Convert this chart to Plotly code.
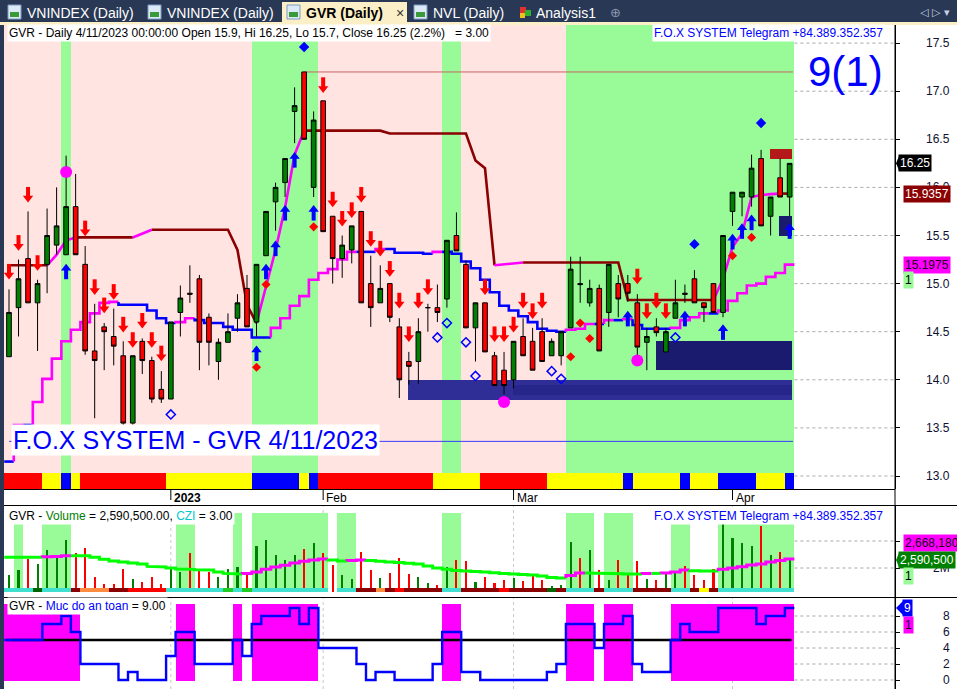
import plotly.graph_objects as go
import pandas as pd

W, H = 957, 689
FONT = "Liberation Sans, Arial, sans-serif"

# ---------------------------------------------------------------- data
holidays = pd.to_datetime(["2023-01-02", "2023-01-20", "2023-01-23", "2023-01-24",
                           "2023-01-25", "2023-01-26"])
dates = [d for d in pd.bdate_range("2022-12-08", "2023-04-11") if d not in holidays]

open_ = [14.24, 14.75, 15.26, 14.80, 15.20, 15.40, 15.30, 15.80, 15.20, 14.30,
         14.55, 14.45, 14.25, 13.55, 14.40, 14.20, 13.90, 13.80, 14.70, 14.90,
         15.05, 14.65, 14.19, 14.39, 14.64, 14.95, 14.60, 15.29, 15.85, 16.05,
         16.79, 17.20, 16.00, 16.90, 15.70, 15.26, 15.35, 15.75, 15.00, 14.80,
         15.00, 14.55, 14.19, 14.19, 14.75, 14.75, 14.84, 15.50, 15.20, 14.54,
         14.80, 14.25, 14.10, 14.00, 14.45, 14.40, 14.50, 14.25, 14.25, 14.54,
         15.00, 14.80, 14.95, 14.70, 15.00, 15.00, 14.80, 14.39, 14.55, 14.29,
         14.64, 14.90, 15.05, 14.80, 15.00, 14.70, 15.75, 15.90, 15.90, 16.30,
         15.70, 16.10, 15.90]
high = [14.94, 15.25, 15.75, 15.04, 15.78, 16.00, 16.33, 16.14, 15.39, 14.79,
        14.59, 14.74, 14.40, 14.25, 14.43, 14.24, 14.09, 14.60, 14.98, 15.19,
        15.09, 14.69, 14.43, 14.69, 14.89, 15.09, 15.20, 15.75, 16.05, 16.30,
        17.04, 17.20, 16.79, 16.90, 15.70, 15.50, 15.60, 15.75, 15.29, 15.19,
        15.00, 14.64, 14.29, 14.64, 14.79, 14.99, 15.45, 15.74, 15.24, 14.80,
        14.80, 14.29, 14.29, 14.40, 14.64, 14.54, 14.64, 14.43, 14.50, 15.28,
        15.28, 15.04, 14.99, 15.20, 15.09, 15.09, 14.89, 14.54, 14.64, 14.54,
        15.04, 14.99, 15.14, 14.80, 15.00, 15.50, 15.95, 15.95, 16.34, 16.39,
        15.90, 16.30, 16.25]
low = [14.24, 14.45, 14.80, 14.30, 14.90, 15.30, 15.30, 15.30, 14.26, 13.60,
       14.10, 14.15, 13.45, 13.50, 14.06, 13.76, 13.76, 13.80, 14.45, 14.80,
       14.10, 14.15, 14.00, 14.39, 14.50, 14.55, 14.45, 15.29, 15.55, 15.90,
       16.46, 16.50, 15.90, 15.54, 15.00, 15.06, 15.21, 14.80, 14.55, 14.80,
       14.60, 13.81, 13.95, 13.96, 14.50, 14.60, 14.75, 15.34, 14.54, 14.19,
       14.29, 13.94, 13.85, 13.91, 14.25, 14.10, 14.19, 14.25, 14.15, 14.54,
       14.80, 14.76, 14.30, 14.55, 14.65, 14.81, 14.25, 14.10, 14.45, 14.29,
       14.64, 14.80, 14.80, 14.60, 14.70, 14.65, 15.60, 15.70, 15.80, 15.60,
       15.50, 15.90, 15.70]
close = [14.70, 15.05, 14.80, 15.00, 15.50, 15.60, 15.80, 15.30, 14.30, 14.20,
         14.50, 14.35, 13.55, 14.25, 14.20, 13.80, 13.80, 14.60, 14.85, 14.89,
         14.39, 14.39, 14.39, 14.50, 14.80, 14.55, 15.20, 15.75, 16.00, 16.30,
         16.85, 16.50, 16.70, 15.54, 15.26, 15.40, 15.60, 14.80, 14.75, 14.95,
         14.65, 14.00, 14.14, 14.50, 14.75, 14.70, 15.45, 15.34, 14.54, 14.80,
         14.29, 13.94, 13.94, 14.40, 14.25, 14.10, 14.19, 14.40, 14.50, 15.15,
         14.99, 14.95, 14.30, 15.20, 14.84, 14.90, 14.34, 14.45, 14.49, 14.50,
         14.80, 14.89, 14.80, 14.75, 14.70, 15.50, 15.95, 15.95, 16.20, 15.60,
         15.90, 15.90, 16.25]
volume_m = [1.48, 1.85, 2.67, 2.30, 3.33, 2.80, 4.07, 3.10, 3.48, 1.33,
            0.81, 0.80, 1.93, 1.19, 0.96, 1.33, 0.80, 2.07, 1.70, 3.10,
            1.78, 1.70, 1.33, 1.93, 2.07, 1.70, 3.60, 4.07, 2.96, 2.59,
            2.96, 3.40, 3.85, 3.10, 2.20, 1.48, 1.19, 3.20, 1.85, 1.26,
            1.63, 2.74, 1.55, 1.33, 0.89, 0.74, 2.07, 2.59, 2.52, 0.96,
            1.33, 0.89, 1.11, 1.26, 1.04, 1.48, 1.11, 0.67, 0.74, 3.90,
            2.74, 3.33, 1.85, 1.11, 2.59, 1.63, 2.52, 1.19, 1.11, 1.63,
            1.78, 2.15, 1.48, 1.11, 1.93, 5.26, 4.20, 3.85, 3.60, 5.10,
            2.96, 3.20, 2.5905]
vol_ma_m = [2.80, 2.80, 2.80, 2.80, 2.83, 2.86, 2.90, 2.90, 2.90, 2.80,
            2.65, 2.52, 2.44, 2.37, 2.30, 2.12, 2.07, 2.00, 1.93, 1.90,
            1.87, 1.85, 1.70, 1.60, 1.55, 1.60, 1.70, 1.90, 2.07, 2.20,
            2.37, 2.50, 2.60, 2.67, 2.60, 2.52, 2.55, 2.60, 2.55, 2.50,
            2.44, 2.40, 2.35, 2.30, 2.15, 2.00, 1.90, 1.82, 1.78, 1.74,
            1.70, 1.65, 1.60, 1.55, 1.52, 1.48, 1.40, 1.30, 1.26, 1.45,
            1.63, 1.63, 1.63, 1.63, 1.58, 1.55, 1.55, 1.60, 1.60, 1.63,
            1.70, 1.85, 1.80, 1.78, 1.78, 1.90, 2.00, 2.10, 2.22, 2.30,
            2.44, 2.55, 2.66818]
trail_upper = [15.19, 15.19, 15.19, 15.19, 15.19, 15.30, 15.45, 15.48, 15.48, 15.48,
               15.48, 15.48, 15.48, 15.48, 15.52, 15.56, 15.56, 15.56, 15.56, 15.56,
               15.56, 15.56, 15.56, 15.56, 15.35, 14.78, 14.59, 14.96, 15.35, 15.79,
               16.34, 16.59, 16.59, 16.59, 16.59, 16.59, 16.59, 16.59, 16.59, 16.59,
               16.56, 16.56, 16.56, 16.56, 16.56, 16.56, 16.56, 16.56, 16.56, 16.28,
               16.20, 15.19, 15.20, 15.21, 15.22, 15.22, 15.22, 15.22, 15.22, 15.22,
               15.22, 15.22, 15.22, 15.22, 15.22, 14.83, 14.83, 14.83, 14.83, 14.83,
               14.83, 14.83, 14.83, 14.83, 14.83, 15.05, 15.38, 15.52, 15.90, 15.92,
               15.93, 15.9357, 15.9357]
trail_lower = [13.15, 13.53, 13.53, 13.77, 14.01, 14.22, 14.40, 14.52, 14.60, 14.69,
               14.80, 14.81, 14.78, 14.78, 14.78, 14.72, 14.64, 14.59, 14.60, 14.64,
               14.62, 14.59, 14.59, 14.55, 14.52, 14.52, 14.44, 14.44, 14.54, 14.64,
               14.77, 14.87, 15.04, 15.11, 15.15, 15.25, 15.33, 15.33, 15.33, 15.36,
               15.36, 15.32, 15.32, 15.32, 15.31, 15.33, 15.33, 15.31, 15.23, 15.16,
               15.04, 14.91, 14.77, 14.72, 14.66, 14.60, 14.53, 14.51, 14.50, 14.52,
               14.53, 14.58, 14.58, 14.62, 14.62, 14.63, 14.57, 14.53, 14.53, 14.53,
               14.54, 14.62, 14.65, 14.69, 14.69, 14.72, 14.82, 14.90, 14.98, 15.00,
               15.07, 15.11, 15.1975]
safety = [5, 5, 5, 5, 7, 7, 8, 6, 2, 2, 2, 2, 0, 1, 0, 0, 0, 3, 6, 6,
          2, 2, 2, 2, 5, 3, 7, 8, 8, 8, 9, 7, 9, 4, 4, 4, 4, 2, 0, 1,
          1, 0, 0, 0, 0, 2, 6, 6, 1, 1, 0, 0, 0, 0, 0, 0, 0, 1, 2, 7,
          7, 7, 4, 7, 7, 8, 2, 1, 1, 1, 5, 7, 6, 6, 6, 9, 9, 9, 9, 7,
          8, 8, 9]
safety_threshold = 5

trend_up_ranges = [(6, 6), (26, 32), (46, 47), (59, 82)]
vol_zone_ranges = [(1, 1), (4, 6), (18, 19), (24, 24), (26, 33), (35, 36), (46, 47),
                   (59, 61), (63, 65), (70, 71), (75, 82)]
state_strip = [("r", 0, 3), ("y", 4, 5), ("b", 6, 6), ("y", 7, 7), ("r", 8, 16),
               ("y", 17, 25), ("b", 26, 30), ("y", 31, 31), ("b", 32, 32), ("r", 33, 44),
               ("y", 45, 49), ("r", 50, 56), ("y", 57, 64), ("b", 65, 65), ("y", 66, 70),
               ("b", 71, 71), ("y", 72, 74), ("b", 75, 78), ("y", 79, 81), ("b", 82, 82)]
czi_strip = [("c", 0, 2), ("G", 3, 3), ("c", 4, 6), ("D", 7, 7), ("o", 8, 10),
             ("D", 11, 12), ("R", 13, 16), ("c", 17, 22), ("g", 23, 23), ("c", 24, 24),
             ("g", 25, 25), ("c", 26, 33), ("w", 34, 34), ("c", 35, 36), ("D", 37, 38),
             ("o", 39, 39), ("D", 40, 40), ("R", 41, 41), ("D", 42, 45), ("c", 46, 47),
             ("D", 48, 51), ("R", 52, 52), ("D", 53, 56), ("G", 57, 57), ("D", 58, 58),
             ("c", 59, 61), ("D", 62, 62), ("c", 63, 65), ("D", 66, 69), ("c", 70, 71),
             ("D", 72, 72), ("Y", 73, 73), ("D", 74, 74), ("c", 75, 82)]

sell_arrow_idx = [0, 1, 2, 3, 8, 9, 10, 11, 12, 13, 14, 15, 16,
                  33, 34, 35, 36, 37, 38, 39, 40, 41, 42, 43, 44,
                  50, 51, 52, 53, 54, 55, 56, 66, 67, 68, 69]
sell_arrow_px = [15.11, 15.41, 15.91, 15.20, 15.56, 14.95, 14.76, 14.90, 14.56, 14.40, 14.60, 14.40, 14.26,
                 17.05, 15.86, 15.66, 15.75, 15.91, 15.45, 15.35, 15.14, 14.81, 14.46, 14.81, 14.95,
                 14.95, 14.46, 14.46, 14.56, 14.81, 14.70, 14.81, 15.06, 14.70, 14.81, 14.70]
buy_arrow_idx = [6, 26, 27, 28, 29, 30, 32, 65, 71, 75, 76, 77, 78, 82]
buy_arrow_px = [15.14, 14.29, 15.14, 15.38, 15.75, 16.30, 15.75, 14.65, 14.65, 14.51,
                15.45, 15.56, 15.65, 15.56]
red_dot_idx = [26, 27, 32, 59, 60, 61, 76, 78]
red_dot_px = [14.13, 14.99, 15.59, 14.24, 14.59, 14.43, 15.29, 15.48]
blue_dot_idx = [31, 72, 79]
blue_dot_px = [17.46, 15.41, 16.67]
hollow_idx = [17, 45, 46, 48, 49, 57, 58, 70]
hollow_px = [13.64, 14.44, 14.59, 14.39, 14.04, 14.09, 14.01, 14.44]
pivot_idx = [6, 52, 66]
pivot_px = [16.16, 13.77, 14.20]

# zones: (first idx, last idx, low, high, colour key)
zones = [(42, 82, 13.79, 14.00, "z1"), (53, 82, 13.84, 13.95, "z1b"),
         (68, 82, 14.10, 14.40, "z2"), (81, 82, 15.49, 15.70, "z2"),
         (80, 82, 16.30, 16.40, "z3")]
support_level = 13.36
target_count = "9(1)"

# ---------------------------------------------------------------- geometry
X_L, X_R = 4, 895
MAIN_T, MAIN_B = 25, 489
VOL_T, VOL_B = 506, 597
SAF_T, SAF_B = 598, 689
BAR_STEP = 9.52
X0_PX = 9

def px(x):
    return x / W

def py(y):
    return 1 - y / H

n = len(close)
idx = list(range(n))
x_range = [(X_L - X0_PX) / BAR_STEP, (X_R - X0_PX) / BAR_STEP]

PPX_MAIN = 96.2  # pixels per price unit
main_lo = 13 - (MAIN_B - 476) / PPX_MAIN
main_hi = 13 + (476 - MAIN_T) / PPX_MAIN
k_main = 1 / PPX_MAIN
PPX_VOL = 13.5
vol_lo = (595 - VOL_B) / PPX_VOL
vol_hi = (595 - VOL_T) / PPX_VOL
k_vol = 1 / PPX_VOL
PPX_SAF = 8.0
saf_lo = (680 - SAF_B) / PPX_SAF
saf_hi = (680 - SAF_T) / PPX_SAF
k_saf = 1 / PPX_SAF

PINK, LGREEN = "#FFE4E1", "#98FB98"
MAGENTA, MAROON, BLUE = "#FF00FF", "#8B0000", "#0000FF"
state_cols = {"r": "#FF0000", "y": "#FFFF00", "b": "#0000FF"}
czi_cols = {"c": "#40E0D0", "G": "#006400", "D": "#8B0000", "o": "#FF8C40", "R": "#FF0000",
            "g": "#22CC22", "w": "rgba(0,0,0,0)", "Y": "#FFFF00"}
zone_cols = {"z1": "#2E2E96", "z1b": "#25258A", "z2": "#1A1A6E", "z3": "#B41919"}


def expand(ranges, n_, on, off):
    out = [off] * n_
    for a, b in ranges:
        for i in range(a, b + 1):
            out[i] = on
    return out


def expand_codes(strip, table, n_):
    out = ["rgba(0,0,0,0)"] * n_
    for code, a, b in strip:
        for i in range(a, b + 1):
            out[i] = table[code]
    return out


fig = go.Figure()


def bar(x, y, base, width, color, xa, ya):
    fig.add_trace(go.Bar(x=x, y=y, base=base, width=width,
                         marker=dict(color=color, line=dict(width=0)),
                         xaxis=xa, yaxis=ya, hoverinfo="skip", showlegend=False))


def line(x, y, color, width, xa, ya, dash=None, shape="linear"):
    fig.add_trace(go.Scatter(x=x, y=y, mode="lines",
                             line=dict(color=color, width=width, dash=dash, shape=shape),
                             xaxis=xa, yaxis=ya, hoverinfo="skip", showlegend=False))


def runs(pts, cols):
    out, cur = [], None
    for k in range(1, len(pts)):
        if cur is None or cur[0] != cols[k]:
            cur = [cols[k], [pts[k - 1][0]], [pts[k - 1][1]]]
            out.append(cur)
        cur[1].append(pts[k][0])
        cur[2].append(pts[k][1])
    return out


def stair_runs(vals, up, dn):
    pts = [(-0.5, vals[0]), (0.5, vals[0])]
    cols = [dn, dn]
    for i in range(1, len(vals)):
        c = up if vals[i] > vals[i - 1] + 1e-9 else dn
        pts += [(i - 0.5, vals[i]), (i + 0.5, vals[i])]
        cols += [c, c]
    return runs(pts, cols)


def linear_runs(vals, up, dn):
    pts = [(i, v) for i, v in enumerate(vals)]
    cols = [dn] + [up if vals[i] > vals[i - 1] + 1e-9 else dn for i in range(1, len(vals))]
    return runs(pts, cols)


# ---------------------------------------------------------------- main panel
band_base = 13 - (473 - 476) / PPX_MAIN
bar(idx, [main_hi + 1 - band_base] * n, band_base, 1.0,
    expand(trend_up_ranges, n, LGREEN, PINK), "x", "y")
bar(idx, [band_base - main_lo] * n, main_lo, 1.0,
    expand_codes(state_strip, state_cols, n), "x", "y")
for a, b, lo_, hi_, ck in zones:
    x0, x1 = a - 0.08, b + 0.2
    bar([(x0 + x1) / 2], [hi_ - lo_], lo_, x1 - x0, zone_cols[ck], "x", "y")

# horizontal reference lines
hi_i = max(idx, key=lambda i: high[i])
line([hi_i, n - 1 + 0.35], [high[hi_i]] * 2, "#C86464", 1, "x", "y")
line([0, n - 1 + 0.35], [support_level] * 2, "#3C3CFF", 1, "x", "y")

for col, xs, ys in linear_runs(trail_upper, MAGENTA, MAROON):
    line(xs, ys, col, 2.6, "x", "y")
for col, xs, ys in stair_runs(trail_lower, MAGENTA, BLUE):
    line(xs, ys, col, 2.6, "x", "y")

# candles (overlay axes so they sit above the lines)
fig.add_trace(go.Candlestick(
    x=idx, open=open_, high=high, low=low, close=close,
    increasing=dict(line=dict(color="black", width=1), fillcolor="#008000"),
    decreasing=dict(line=dict(color="black", width=1), fillcolor="#FF0000"),
    whiskerwidth=0, xaxis="x4", yaxis="y4", hoverinfo="skip", showlegend=False))


def markers(x, y, symbol, size, color, lw=0, lcolor=None, xa="x4", ya="y4"):
    fig.add_trace(go.Scatter(x=x, y=y, mode="markers",
                             marker=dict(symbol=symbol, size=size, color=color,
                                         line=dict(width=lw, color=lcolor or color)),
                             xaxis=xa, yaxis=ya, hoverinfo="skip", showlegend=False,
                             cliponaxis=False))


# sell arrows (shaft + head)
markers(sell_arrow_idx, [p + 3.5 * k_main for p in sell_arrow_px], "line-ns", 8, "#FF0000", 4, "#FF0000")
markers(sell_arrow_idx, [p - 2 * k_main for p in sell_arrow_px], "triangle-down", 9, "#FF0000")
markers(buy_arrow_idx, [p - 3.5 * k_main for p in buy_arrow_px], "line-ns", 8, BLUE, 4, BLUE)
markers(buy_arrow_idx, [p + 2 * k_main for p in buy_arrow_px], "triangle-up", 9, BLUE)
markers(red_dot_idx, red_dot_px, "diamond", 7, "#FF0000")
markers(blue_dot_idx, blue_dot_px, "diamond", 8, BLUE)
markers(hollow_idx, hollow_px, "diamond-open", 7, BLUE, 1.5, BLUE)
markers(pivot_idx, pivot_px, "circle", 12, MAGENTA)

# ---------------------------------------------------------------- volume panel
vb_lo = (595 - 588) / PPX_VOL
vb_hi = (595 - 513) / PPX_VOL
bar(idx, [vb_hi - vb_lo] * n, vb_lo, 1.0,
    expand(vol_zone_ranges, n, LGREEN, "rgba(0,0,0,0)"), "x2", "y2")
vol_cols = ["#008000" if c >= o else "#FF0000" for o, c in zip(open_, close)]
bar(idx, volume_m, 0, 0.22, vol_cols, "x2", "y2")
strip_lo = (595 - 592) / PPX_VOL
bar(idx, [vb_lo - strip_lo] * n, strip_lo, 1.0, expand_codes(czi_strip, czi_cols, n), "x2", "y2")
bar(idx, [strip_lo - vol_lo + 0.05] * n, vol_lo - 0.05, 1.0, ["white"] * n, "x2", "y2")
for col, xs, ys in stair_runs(vol_ma_m, MAGENTA, "#00FF00"):
    line(xs, ys, col, 3, "x2", "y2")

# ---------------------------------------------------------------- safety panel
sf_lo = (680 - 681) / PPX_SAF
sf_hi = (680 - 604) / PPX_SAF
safe_cols = [MAGENTA if s >= safety_threshold else "rgba(0,0,0,0)" for s in safety]
bar(idx, [sf_hi - sf_lo] * n, sf_lo, 1.0, safe_cols, "x3", "y3")
line([-0.3, n - 1 + 0.2], [safety_threshold] * 2, "black", 2.6, "x3", "y3")
for col, xs, ys in stair_runs(safety, BLUE, BLUE):
    line(xs, ys, col, 2.4, "x3", "y3")

# ---------------------------------------------------------------- axes
ax_common = dict(showgrid=False, zeroline=False, showticklabels=False, fixedrange=True)
fig.update_layout(
    width=W, height=H, margin=dict(l=0, r=0, t=0, b=0),
    paper_bgcolor="white", plot_bgcolor="white",
    barmode="overlay", bargap=0, showlegend=False,
    xaxis=dict(domain=[px(X_L), px(X_R)], range=x_range, anchor="y",
               rangeslider=dict(visible=False), **ax_common),
    xaxis2=dict(domain=[px(X_L), px(X_R)], range=x_range, anchor="y2", **ax_common),
    xaxis3=dict(domain=[px(X_L), px(X_R)], range=x_range, anchor="y3", **ax_common),
    xaxis4=dict(overlaying="x", range=x_range, visible=False,
                rangeslider=dict(visible=False), **ax_common),
    yaxis=dict(domain=[py(MAIN_B), py(MAIN_T)], range=[main_lo, main_hi], side="right",
               anchor="x", showline=True, linecolor="black", linewidth=1,
               ticks="outside", ticklen=4, tickcolor="black",
               tickvals=[13 + 0.5 * j for j in range(10)], **ax_common),
    yaxis2=dict(domain=[py(VOL_B), py(VOL_T)], range=[vol_lo, vol_hi], side="right",
                anchor="x2", showline=True, linecolor="black", linewidth=1,
                ticks="outside", ticklen=4, tickcolor="black", tickvals=[2, 4], **ax_common),
    yaxis3=dict(domain=[py(SAF_B), py(SAF_T)], range=[saf_lo, saf_hi], side="right",
                anchor="x3", showline=True, linecolor="black", linewidth=1,
                ticks="outside", ticklen=4, tickcolor="black", tickvals=[0, 2, 4, 6, 8],
                **ax_common),
    yaxis4=dict(overlaying="y", range=[main_lo, main_hi], visible=False, side="right",
                **ax_common),
)

shapes = []
ann = []


def rect_px(x0, y0, x1, y1, color, line_color=None):
    shapes.append(dict(type="rect", xref="paper", yref="paper", x0=px(x0), x1=px(x1),
                       y0=py(y0), y1=py(y1), fillcolor=color,
                       line=dict(width=1 if line_color else 0, color=line_color or color),
                       layer="above"))


def hline_px(x0, x1, y, color="black", width=1):
    shapes.append(dict(type="line", xref="paper", yref="paper", x0=px(x0), x1=px(x1),
                       y0=py(y), y1=py(y), line=dict(color=color, width=width), layer="above"))


def text_px(x, y, s, size=12, color="black", bg=None, xanchor="left", family=FONT):
    ann.append(dict(x=px(x), y=py(y), xref="paper", yref="paper", text=s, showarrow=False,
                    xanchor=xanchor, yanchor="middle",
                    font=dict(size=size, color=color, family=family),
                    bgcolor=bg or "rgba(0,0,0,0)", borderpad=1))


def value_box(yval, yref, s, bg, fg, arrow=False, yshift=0, x_left=903, k=0.01):
    ann.append(dict(x=px(x_left), y=yval, xref="paper", yref=yref, text=s, showarrow=False,
                    xanchor="left", yanchor="middle", yshift=yshift,
                    font=dict(size=12, color=fg, family=FONT), bgcolor=bg, borderpad=1))
    if arrow:
        shapes.append(dict(type="path", xref="paper", yref=yref,
                           path=f"M {px(896)},{yval} L {px(x_left + 1)},{yval + 7 * k} "
                                f"L {px(x_left + 1)},{yval - 7 * k} Z",
                           fillcolor=bg, line=dict(width=0), layer="above"))


# tab bar
rect_px(0, 0, W, 23, "#293955")
rect_px(0, 22, W, 25, "#FBEFC7")
rect_px(0, 25, X_L, H, "#293955")
rect_px(282, 2, 407, 24, "#FBEFC7")
tabs = [("VNINDEX (Daily)", 8, False), ("VNINDEX (Daily)", 148, False),
        ("GVR (Daily)", 287, True), ("NVL (Daily)", 414, False)]
for label, x0, active in tabs:
    rect_px(x0, 5, x0 + 13, 19, "#DCE9F7", "#7F9DC4")
    rect_px(x0 + 2, 12, x0 + 11, 17, "#3A9A3A")
    text_px(x0 + 17, 12.5, f"<b>{label}</b>" if active else label, 14,
            "black" if active else "white")
text_px(394, 12.5, "×", 14, "#333333")
rect_px(520, 7, 526, 13, "#E03030")
rect_px(525, 10, 531, 16, "#30B030")
rect_px(520, 13, 525, 18, "#F0C020")
text_px(534, 12.5, "Analysis1", 14, "white")
text_px(608, 12.5, "⊕", 13, "#8A98B0", family="DejaVu Sans")
text_px(952, 12.5, "◁ ▷ ▾", 11, "#C8D0E0", xanchor="right", family="DejaVu Sans")

# frame lines
hline_px(X_L, X_R, MAIN_B + 0.5)
hline_px(X_L, W, VOL_T - 0.5)
hline_px(X_L, W, VOL_B + 0.5)
shapes.append(dict(type="line", xref="paper", yref="paper", x0=px(X_R), x1=px(X_R),
                   y0=py(MAIN_T), y1=0, line=dict(color="black", width=1), layer="above"))

# dotted grid only in the blank area after the last bar
for ya, vals in (("y", [13 + 0.5 * j for j in range(10)]), ("y2", [2, 4]),
                 ("y3", [0, 2, 4, 6, 8])):
    for v in vals:
        shapes.append(dict(type="line", xref="x", yref=ya, x0=n - 0.5, x1=x_range[1],
                           y0=v, y1=v, line=dict(color="#A8A8A8", width=1, dash="dot"),
                           layer="below"))

# date axis
for i in range(1, n):
    if dates[i].month != dates[i - 1].month:
        lab = f"<b>{dates[i].year}</b>" if dates[i].month == 1 else dates[i].strftime("%b")
        shapes.append(dict(type="line", xref="x", yref="paper", x0=i, x1=i,
                           y0=py(MAIN_B), y1=py(MAIN_B + 11), line=dict(color="black", width=1)))
        for ya in ("y2 domain", "y3 domain"):
            shapes.append(dict(type="line", xref="x", yref=ya, x0=i, x1=i, y0=0, y1=1,
                               line=dict(color="#C8C8C8", width=1, dash="dot"), layer="below"))
        ann.append(dict(x=i, y=py(MAIN_B + 8.5), xref="x", yref="paper", text=lab,
                        showarrow=False, xanchor="left", yanchor="middle", xshift=1,
                        font=dict(size=12, color="black", family=FONT)))

# axis labels
for v in [13 + 0.5 * j for j in range(10)]:
    ann.append(dict(x=px(952), y=v, xref="paper", yref="y", text=f"{v:.1f}", showarrow=False,
                    xanchor="right", yanchor="middle", font=dict(size=12, color="#101030", family=FONT)))
for v in [2, 4]:
    ann.append(dict(x=px(952), y=v, xref="paper", yref="y2", text=f"{v}M", showarrow=False,
                    xanchor="right", yanchor="middle", font=dict(size=12, color="#101030", family=FONT)))
for v in [0, 2, 4, 6, 8]:
    ann.append(dict(x=px(952), y=v, xref="paper", yref="y3", text=f"{v}", showarrow=False,
                    xanchor="right", yanchor="middle", font=dict(size=12, color="#101030", family=FONT)))

# value boxes
value_box(close[-1], "y", f"{close[-1]:.2f}", "black", "white", arrow=True, x_left=898, k=k_main)
value_box(trail_upper[-1], "y", f"{trail_upper[-1]:.4f}", MAROON, "white")
value_box(trail_lower[-1], "y", f"{trail_lower[-1]:.4f}", MAGENTA, "#200020")
value_box(trail_lower[-1], "y", "1", LGREEN, "black", yshift=-15)
value_box(vol_ma_m[-1], "y2", f"{vol_ma_m[-1] * 1e6:,.0f}", MAGENTA, "#200020", yshift=16)
value_box(volume_m[-1], "y2", f"{volume_m[-1] * 1e6:,.0f}", "#008000", "white", arrow=True,
          x_left=898, k=k_vol)
value_box(volume_m[-1], "y2", "1", LGREEN, "black", yshift=-16)
value_box(safety[-1], "y3", f"{safety[-1]}", BLUE, "white", arrow=True, x_left=902, k=k_saf)
value_box(safety[-1], "y3", "1", MAGENTA, "#200020", yshift=-17)

# titles
chg = (close[-1] / close[-2] - 1) * 100
d_last = dates[-1]
title_main = (f"GVR - Daily {d_last.month}/{d_last.day}/{d_last.year} 00:00:00 "
              f"Open {open_[-1]:g}, Hi {high[-1]:g}, Lo {low[-1]:g}, Close {close[-1]:g} "
              f"({chg:.1f}%)\u00a0\u00a0\u00a0= 3.00")
text_px(7, 33, title_main, 12, "black", bg="white")
text_px(885, 33, "F.O.X SYSTEM Telegram +84.389.352.357", 12, BLUE, bg="white", xanchor="right")
text_px(7, 516, "GVR - <span style='color:#008000'>Volume</span> = "
        f"{volume_m[-1] * 1e6:,.2f}, <span style='color:#00C8C8'>CZI</span> = 3.00", 12, "black",
        bg="white")
text_px(885, 516, "F.O.X SYSTEM Telegram +84.389.352.357", 12, BLUE, bg="white", xanchor="right")
text_px(7, 606, f"GVR - <span style='color:#0000FF'>Muc do an toan</span> = {safety[-1]:.2f}",
        12, "black", bg="white")
text_px(806, 71, target_count, 42, BLUE)
text_px(11, 440, f"F.O.X SYSTEM - GVR {d_last.month}/{d_last.day}/{d_last.year}", 25, BLUE,
        bg="white")

fig.update_layout(shapes=shapes, annotations=ann)

fig.write_html("out.html", config={"displayModeBar": False, "staticPlot": True},
               post_script="document.body.style.margin='0';")
